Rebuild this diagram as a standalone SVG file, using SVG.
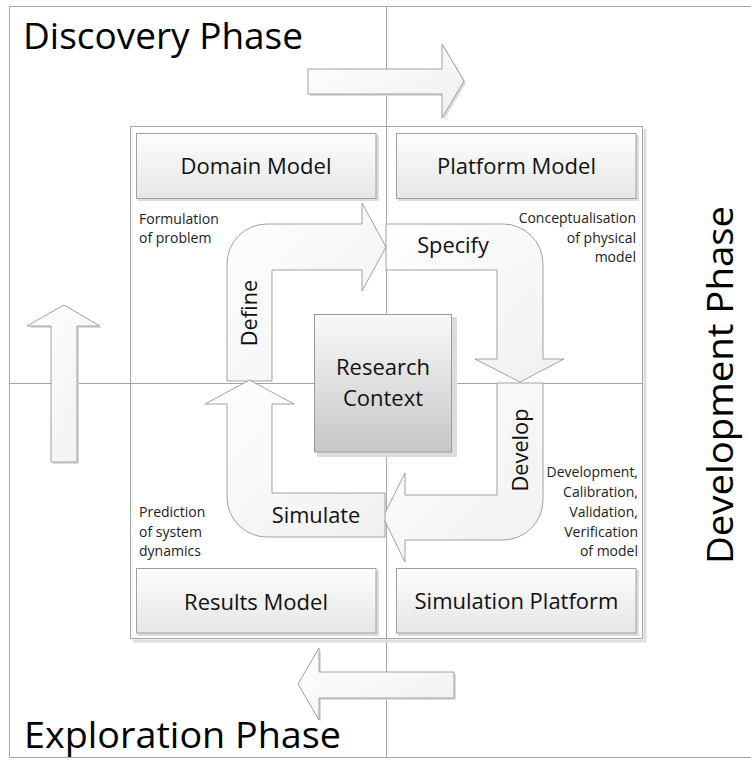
<svg xmlns="http://www.w3.org/2000/svg" width="751" height="760" viewBox="0 0 751 760">
<defs>
<linearGradient id="boxGrad" x1="0" y1="0" x2="0" y2="1">
<stop offset="0" stop-color="#fdfdfd"/><stop offset="1" stop-color="#e6e6e6"/>
</linearGradient>
<linearGradient id="rcGrad" x1="0" y1="0" x2="0" y2="1">
<stop offset="0" stop-color="#f9f9f9"/><stop offset="1" stop-color="#c6c6c6"/>
</linearGradient>
<linearGradient id="arrGrad" x1="0" y1="0" x2="1" y2="1">
<stop offset="0" stop-color="#ffffff"/><stop offset="1" stop-color="#f0f0f0"/>
</linearGradient>
<style>
.grid{stroke:#a6a6a6;stroke-width:1;fill:none}
.frame{fill:none;stroke:#a6a6a6;stroke-width:1}
.shadow{fill:#dcdcdc;stroke:none}
.box{fill:url(#boxGrad);stroke:#a0a0a0;stroke-width:1}
.rc{fill:url(#rcGrad);stroke:#9a9a9a;stroke-width:1}
.arrow{fill:url(#arrGrad);stroke:#8c8c8c;stroke-width:0.8;stroke-linejoin:miter}
.big{font-family:"Open Sans","Liberation Sans",sans-serif;font-size:37px;fill:#000}
.title{font-family:"Open Sans","Liberation Sans",sans-serif;font-size:22px;fill:#111;text-anchor:middle}
.lbl{font-family:"Open Sans","Liberation Sans",sans-serif;font-size:21.8px;fill:#111;text-anchor:middle}
.note{font-family:"Open Sans","Liberation Sans",sans-serif;font-size:14px;fill:#222}
.r{text-anchor:end}
</style>
</defs>
<rect width="751" height="760" fill="#ffffff"/>

<g id="grid">
<path class="grid" d="M9.5,6.5 H751 M9.5,6.5 V758 M9.5,757.5 H751"/>
<path class="grid" d="M386.5,6.5 V757.5 M9.5,383.5 H643"/>
</g>

<g id="inner-frame">
<path d="M133,641 H645 V129" fill="none" stroke="#dedede" stroke-width="3"/>
<rect class="frame" x="130.5" y="126.5" width="512" height="512"/>
</g>

<g id="phase-arrows">
<path class="shadow" d="M310,71 L444,71 L444,46 L466,83 L444,120 L444,96 L310,96 Z"/>
<path class="arrow" d="M308,69 L442,69 L442,44 L464,81 L442,118 L442,94 L308,94 Z"/>
<path class="shadow" d="M53,464 L53,328 L29,328 L66,307 L102,328 L79,328 L79,464 Z"/>
<path class="arrow" d="M51,462 L51,326 L27,326 L64,305 L100,326 L77,326 L77,462 Z"/>
<path class="shadow" d="M456,674 L321,674 L321,650 L300,686 L321,722 L321,700 L456,700 Z"/>
<path class="arrow" d="M454,672 L319,672 L319,648 L298,684 L319,720 L319,698 L454,698 Z"/>
</g>

<g id="domain-model">
<rect class="shadow" x="138" y="135" width="241" height="66"/>
<rect class="box" x="136.5" y="133.5" width="239.5" height="65"/>
<text class="title" x="256" y="174">Domain Model</text>
</g>
<g id="platform-model">
<rect class="shadow" x="398" y="135" width="241" height="66"/>
<rect class="box" x="396.5" y="133.5" width="239.5" height="65"/>
<text class="title" x="516.5" y="174">Platform Model</text>
</g>
<g id="results-model">
<rect class="shadow" x="138" y="570" width="241" height="66"/>
<rect class="box" x="136.5" y="568.5" width="239.5" height="64.5"/>
<text class="title" x="256" y="610">Results Model</text>
</g>
<g id="simulation-platform">
<rect class="shadow" x="398" y="570" width="241" height="66"/>
<rect class="box" x="396.5" y="568.5" width="239.5" height="64.5"/>
<text class="title" x="516.5" y="609">Simulation Platform</text>
</g>

<g id="research-context">
<rect class="shadow" x="317" y="317" width="140" height="140"/>
<rect class="rc" x="314.5" y="314.5" width="137" height="137.5"/>
<text class="title" x="383" y="375" font-size="21.5">Research</text>
<text class="title" x="383" y="406" font-size="21.5">Context</text>
</g>

<g id="connectors">
<path class="arrow" d="M227,381 L227,264 A40,40 0 0 1 267,224 L362,224 L362,203 L386,247 L362,291 L362,270 L272,270 L272,381 Z"/>
<path class="arrow" d="M386,224 L503,224 A40,40 0 0 1 543,264 L543,359 L564,359 L520,382 L475,359 L497,359 L497,270 L386,270 Z"/>
<path class="arrow" d="M497,383 L543,383 L543,500 A40,40 0 0 1 503,540 L405,540 L405,562 L383,517 L405,473 L405,495 L497,495 Z"/>
<path class="arrow" d="M385,493 L385,537 L267,537 A40,40 0 0 1 227,497 L227,404 L205,404 L249.5,380 L294,404 L272,404 L272,493 Z"/>
</g>

<g id="arrow-labels">
<text class="lbl" x="453" y="253">Specify</text>
<text class="lbl" x="316" y="523">Simulate</text>
<text class="lbl" transform="translate(257,313) rotate(-90)">Define</text>
<text class="lbl" transform="translate(528,450) rotate(-90)">Develop</text>
</g>

<g id="notes">
<text class="note" x="139" y="224">Formulation</text>
<text class="note" x="139" y="243">of problem</text>
<text class="note r" x="636" y="223">Conceptualisation</text>
<text class="note r" x="636" y="243">of physical</text>
<text class="note r" x="636" y="262">model</text>
<text class="note" x="139" y="517">Prediction</text>
<text class="note" x="139" y="537">of system</text>
<text class="note" x="139" y="556">dynamics</text>
<text class="note r" x="638" y="477">Development,</text>
<text class="note r" x="638" y="497">Calibration,</text>
<text class="note r" x="638" y="517">Validation,</text>
<text class="note r" x="638" y="537">Verification</text>
<text class="note r" x="638" y="556">of model</text>
</g>

<g id="phases">
<text class="big" x="23" y="49" textLength="280" lengthAdjust="spacingAndGlyphs">Discovery Phase</text>
<text class="big" x="24" y="748" textLength="317" lengthAdjust="spacingAndGlyphs">Exploration Phase</text>
<text class="big" text-anchor="middle" transform="translate(733,385) rotate(-90)" textLength="358" lengthAdjust="spacingAndGlyphs">Development Phase</text>
</g>
</svg>
